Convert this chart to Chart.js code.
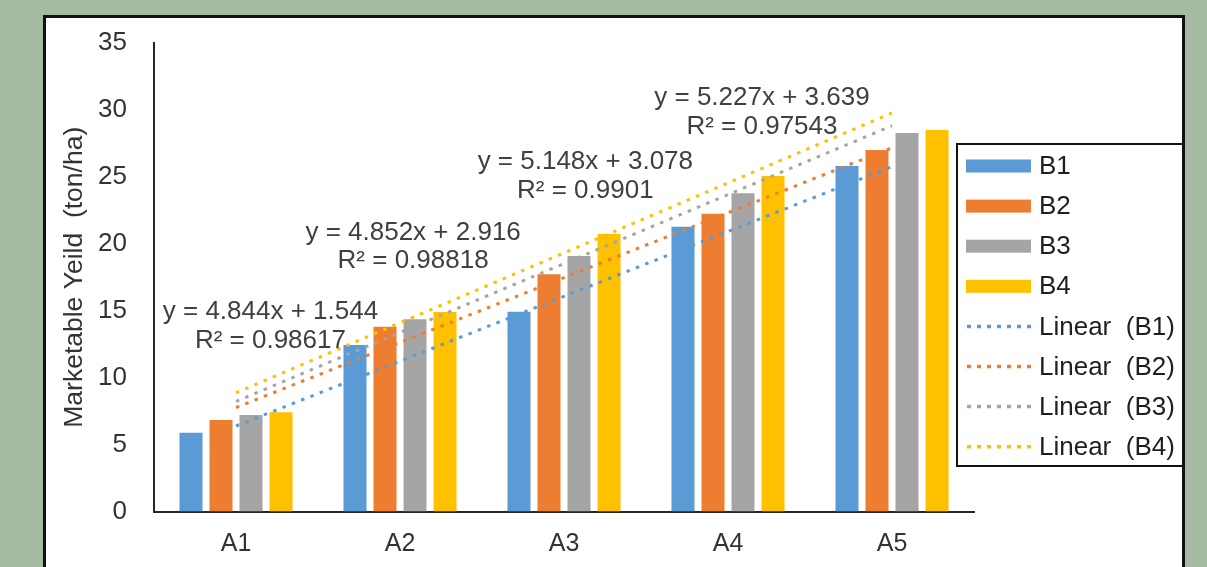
<!DOCTYPE html>
<html><head><meta charset="utf-8">
<script src="https://cdn.jsdelivr.net/npm/chart.js@4/dist/chart.umd.min.js"></script>
<style>
html,body{margin:0;padding:0;background:#a6baa1;width:1207px;height:567px;overflow:hidden;}
#panel{position:absolute;left:43px;top:15px;width:1142px;height:620px;box-sizing:border-box;background:#fff;border:3px solid #111;}
#wrap{position:absolute;left:0;top:0;width:1207px;height:567px;}
</style></head><body>
<div id="panel"></div>
<div id="wrap"><canvas id="c" width="1207" height="567"></canvas></div>
<script>
// ---- data ----
const categories = ['A1', 'A2', 'A3', 'A4', 'A5'];
const seriesNames = ['B1', 'B2', 'B3', 'B4'];
const B1 = [5.89, 12.44, 14.93, 21.28, 25.81];
const B2 = [6.84, 13.81, 17.72, 22.25, 27.00];
const B3 = [7.21, 14.36, 19.09, 23.77, 28.28];
const B4 = [7.41, 14.90, 20.73, 25.06, 28.50];
// trendline equations as printed on the chart
const trendSlope = [4.844, 4.852, 5.148, 5.227];
const trendIntercept = [1.544, 2.916, 3.078, 3.639];
const trendR2 = ['0.98617', '0.98818', '0.9901', '0.97543'];
const yTickMin = 0, yTickMax = 35, yTickStep = 5;
const yTitle = 'Marketable Yeild  (ton/ha)';

// ---- styles ----
const colors = ['#5b9bd5', '#ed7d31', '#a5a5a5', '#ffc000'];
const FONT = '"Liberation Sans", Arial, Helvetica, sans-serif';
const seriesValues = [B1, B2, B3, B4];

// label anchors (category index, value) for trendline equations
const annoPos = [
  {x: 0.21, y: 14.9},
  {x: 1.08, y: 20.85},
  {x: 2.13, y: 26.1},
  {x: 3.207, y: 30.9}
];

const lineDatasets = seriesNames.map((n, i) => ({
  type: 'line',
  label: 'Linear  (' + n + ')',
  data: categories.map((c, k) => trendSlope[i] * (k + 1) + trendIntercept[i]),
  borderColor: colors[i],
  backgroundColor: colors[i],
  borderWidth: 3,
  borderDash: [3.5, 6.5],
  borderCapStyle: 'butt',
  pointRadius: 0,
  fill: false,
  tension: 0,
  order: 0
}));
const barDatasets = seriesNames.map((n, i) => ({
  type: 'bar',
  label: n,
  data: seriesValues[i],
  backgroundColor: colors[i],
  borderWidth: 0,
  barPercentage: 0.767,
  categoryPercentage: 0.732,
  order: 1
}));

const annoPlugin = {
  id: 'trendAnno',
  afterDatasetsDraw(chart) {
    const ctx = chart.ctx;
    const xs = chart.scales.x, ys = chart.scales.y;
    ctx.save();
    ctx.font = '26px ' + FONT;
    ctx.fillStyle = '#404040';
    ctx.textAlign = 'center';
    ctx.textBaseline = 'middle';
    annoPos.forEach((p, i) => {
      const px = xs.getPixelForValue(p.x);
      const py = ys.getPixelForValue(p.y);
      ctx.fillText('y = ' + trendSlope[i].toFixed(3) + 'x + ' + trendIntercept[i].toFixed(3), px, py);
      ctx.fillText('R\u00B2 = ' + trendR2[i], px, py + 28.5);
    });
    ctx.restore();
  }
};

const legendPlugin = {
  id: 'boxLegend',
  afterDraw(chart) {
    const ctx = chart.ctx;
    const box = {l: 957, t: 144, r: 1183, b: 466};
    ctx.save();
    ctx.fillStyle = '#fff';
    ctx.fillRect(box.l, box.t, box.r - box.l, box.b - box.t);
    ctx.lineWidth = 2;
    ctx.strokeStyle = '#111';
    ctx.strokeRect(box.l, box.t, box.r - box.l, box.b - box.t);
    const items = barDatasets.concat(lineDatasets);
    ctx.font = '26px ' + FONT;
    ctx.textBaseline = 'middle';
    ctx.textAlign = 'left';
    items.forEach((d, i) => {
      const cy = box.t + 22 + i * 40.1;
      if (d.type === 'bar') {
        ctx.fillStyle = d.backgroundColor;
        ctx.fillRect(966, cy - 6.5, 65, 13);
      } else {
        ctx.strokeStyle = d.borderColor;
        ctx.lineWidth = 3.5;
        ctx.setLineDash([4, 6]);
        ctx.beginPath();
        ctx.moveTo(967, cy);
        ctx.lineTo(1031, cy);
        ctx.stroke();
        ctx.setLineDash([]);
      }
      ctx.fillStyle = '#1e1e1e';
      ctx.fillText(d.label, 1039, cy + 1);
    });
    ctx.restore();
  }
};

new Chart(document.getElementById('c'), {
  data: {labels: categories, datasets: lineDatasets.concat(barDatasets)},
  options: {
    responsive: false,
    animation: false,
    devicePixelRatio: 1,
    layout: {padding: {top: 43, right: 233, bottom: 0, left: 0}},
    plugins: {legend: {display: false}, tooltip: {enabled: false}},
    scales: {
      x: {
        type: 'category',
        offset: true,
        grid: {display: false, drawTicks: false},
        border: {display: true, color: '#262626', width: 2},
        ticks: {color: '#333', font: {family: FONT, size: 25}, padding: 18},
        afterFit(s) { s.height = 55.5; }
      },
      y: {
        min: yTickMin, max: yTickMax,
        grid: {display: false, drawTicks: false},
        border: {display: true, color: '#262626', width: 2},
        ticks: {stepSize: yTickStep, color: '#333', font: {family: FONT, size: 26}, padding: 27},
        title: {display: true, text: yTitle, color: '#333', font: {family: FONT, size: 26.5}, padding: {top: 59, bottom: 0}},
        afterFit(s) { s.width = 154; }
      }
    }
  },
  plugins: [annoPlugin, legendPlugin]
});
</script>
</body></html>
